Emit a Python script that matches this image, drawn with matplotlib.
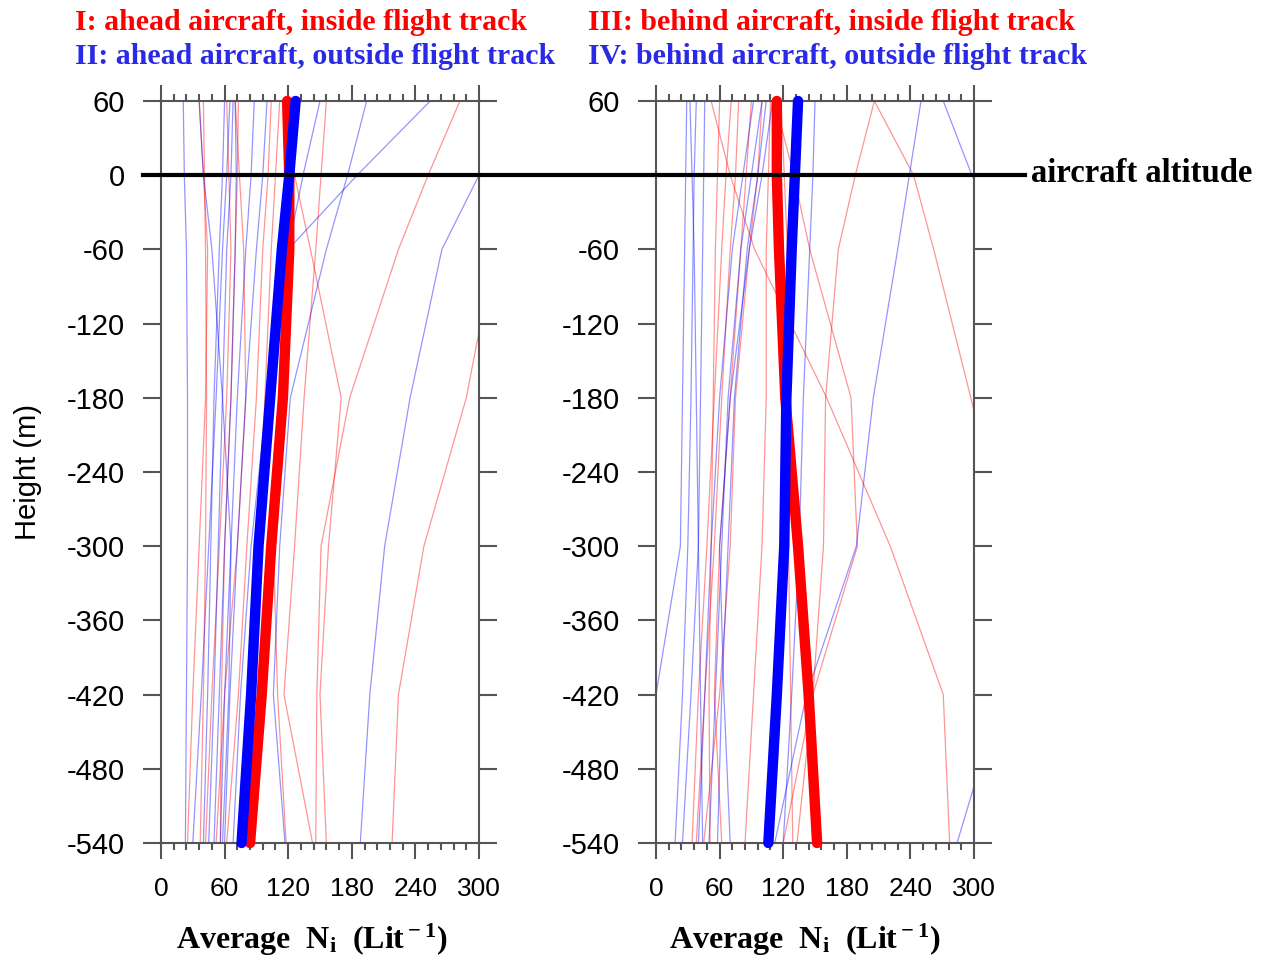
import matplotlib
matplotlib.use("Agg")
import matplotlib.pyplot as plt
from matplotlib.ticker import MultipleLocator
from matplotlib.lines import Line2D

plt.rcParams['font.family'] = ['Liberation Sans', 'DejaVu Sans']
plt.rcParams['axes.unicode_minus'] = False
plt.rcParams['mathtext.fontset'] = 'custom'
plt.rcParams['mathtext.rm'] = 'Liberation Serif:bold'
plt.rcParams['mathtext.bf'] = 'Liberation Serif:bold'
plt.rcParams['mathtext.it'] = 'Liberation Serif:bold'

# ---------------- data ----------------
heights = [60, 0, -60, -180, -300, -420, -540]

# Panel 1, case I (ahead aircraft, inside flight track) - individual profiles
case1_lines = [
    [282, 252, 224, 178, 151, 147, 146],
    [380, 345, 315, 288, 248, 224, 218],
    [156, 151, 146, 135, 126, 116, 143],
    [118, 126, 141, 170, 158, 150, 156],
    [40, 41, 42, 43, 42, 40, 37],
    [73, 72, 70, 66, 60, 57, 56],
    [104, 101, 96, 90, 81, 73, 62],
    [36, 40, 44, 42, 36, 30, 25],
    [62, 64, 66, 62, 55, 48, 42],
    [112, 108, 104, 98, 92, 88, 86],
    [70, 74, 78, 80, 72, 60, 52],
    [125, 122, 118, 112, 106, 110, 118],
]
# Panel 1, case II (ahead aircraft, outside flight track)
case2_lines = [
    [21, 22, 24, 25, 25, 24, 23],
    [254, 185, 120, 100, 85, 75, 68],
    [194, 176, 156, 122, 112, 106, 117],
    [330, 300, 265, 235, 211, 197, 188],
    [150, 134, 120, 102, 92, 85, 80],
    [36, 40, 48, 58, 66, 64, 58],
    [65, 62, 58, 52, 45, 38, 30],
    [70, 71, 70, 66, 60, 55, 50],
    [88, 85, 80, 72, 66, 60, 56],
    [60, 58, 55, 50, 47, 44, 40],
    [100, 96, 90, 80, 72, 65, 60],
    [68, 66, 62, 58, 54, 50, 45],
]
# Panel 2, case III (behind aircraft, inside flight track)
case3_lines = [
    [52, 70, 93, 161, 221, 271, 277],
    [206, 243, 262, 297, 330, 360, 380],
    [206, 188, 172, 160, 158, 148, 133],
    [112, 130, 145, 184, 190, 148, 120],
    [71, 66, 62, 55, 48, 40, 34],
    [78, 75, 70, 62, 55, 46, 38],
    [108, 106, 104, 104, 100, 92, 84],
    [118, 121, 124, 126, 125, 127, 129],
    [60, 58, 56, 54, 52, 50, 51],
    [90, 85, 80, 70, 60, 55, 62],
    [100, 96, 88, 75, 70, 60, 45],
]
# Panel 2, case IV (behind aircraft, outside flight track)
case4_lines = [
    [250, 239, 228, 205, 189, 142, 112],
    [271, 298, 330, 360, 350, 326, 284],
    [150, 148, 145, 139, 135, 128, 120],
    [29, 28, 27, 25, 23, 0, 0],
    [38, 36, 35, 33, 30, 25, 18],
    [46, 45, 44, 42, 40, 33, 25],
    [92, 82, 72, 60, 52, 46, 40],
    [100, 90, 80, 68, 62, 56, 50],
    [104, 96, 86, 74, 68, 62, 58],
    [32, 34, 36, 38, 40, 42, 44],
    [110, 100, 88, 70, 60, 64, 70],
]
# Averages (thick lines)
mean_I = [119, 121, 121, 115, 104, 95, 84]
mean_II = [127, 121, 114, 103, 92, 85, 76]
mean_III = [114, 114, 116, 122, 134, 144, 152]
mean_IV = [134, 131, 128, 123, 121, 114, 106]

xticks = [0, 60, 120, 180, 240, 300]
yticks = [60, 0, -60, -120, -180, -240, -300, -360, -420, -480, -540]

legend_left = ["I: ahead aircraft, inside flight track",
               "II: ahead aircraft, outside flight track"]
legend_right = ["III: behind aircraft, inside flight track",
                "IV: behind aircraft, outside flight track"]

# ---------------- figure ----------------
W, H = 1270, 964
fig = plt.figure(figsize=(W / 100, H / 100), dpi=100)

def fx(px):
    return px / W

def fy(py):
    return 1 - py / H

ax_w = 318 / W
ax_h = 742 / H
ax1 = fig.add_axes([fx(161), fy(843), ax_w, ax_h])
ax2 = fig.add_axes([fx(656), fy(843), ax_w, ax_h])

frame_col = '#555555'
thin_red = (1.0, 0.0, 0.0, 0.42)
thin_blue = (0.0, 0.0, 1.0, 0.42)

def style(ax, hide_zero=False):
    ax.set_xlim(0, 300)
    ax.set_ylim(-540, 60)
    ax.set_xticks(xticks)
    ax.xaxis.set_minor_locator(MultipleLocator(12))
    ax.set_yticks(yticks)
    if hide_zero:
        ax.set_yticklabels(['' if t == 0 else str(t) for t in yticks])
    ax.tick_params(axis='x', which='both', direction='out', top=True, bottom=True,
                   labeltop=False, labelbottom=True, color=frame_col, width=1.5,
                   labelsize=19, pad=13)
    ax.tick_params(axis='x', which='major', length=11.5)
    ax.tick_params(axis='x', which='minor', length=5)
    ax.tick_params(axis='y', which='major', direction='out', left=True, right=True,
                   labelleft=True, labelright=False, length=13, width=1.5,
                   color=frame_col, labelsize=21, pad=13)
    for s in ax.spines.values():
        s.set_color(frame_col)
        s.set_linewidth(1.5)

for ax, reds, blues, mr, mb, hz in [(ax1, case1_lines, case2_lines, mean_I, mean_II, False),
                                    (ax2, case3_lines, case4_lines, mean_III, mean_IV, True)]:
    style(ax, hz)
    for ln in reds:
        ax.plot(ln, heights, color=thin_red, lw=0.9)
    for ln in blues:
        ax.plot(ln, heights, color=thin_blue, lw=0.9)
    ax.plot(mr, heights, color='red', lw=7.5, solid_capstyle='round', clip_on=False, zorder=5)
    ax.plot(mb, heights, color='blue', lw=7.5, solid_capstyle='round', clip_on=False, zorder=6)

# aircraft altitude line across both panels (figure-level, on top of axes)
y0 = ax1.transData.transform((0, 0))[1] / (H)
fig.add_artist(Line2D([fx(143), fx(1025)], [y0, y0], color='black', lw=3,
                      transform=fig.transFigure, zorder=10))
fig.text(fx(1031), fy(173), "aircraft altitude", family='Liberation Serif',
         weight='bold', fontsize=23.5, va='center', ha='left')

# legends / titles
serif = dict(family='Liberation Serif', weight='bold', fontsize=21.5, va='center', ha='left')
fig.text(fx(75), fy(22), legend_left[0], color='red', **serif)
fig.text(fx(75), fy(57), legend_left[1], color='#2a2ae6', **serif)
fig.text(fx(588), fy(22), legend_right[0], color='red', **serif)
fig.text(fx(588), fy(57), legend_right[1], color='#2a2ae6', **serif)

# axis labels
fig.text(fx(28), fy(472), "Height (m)", rotation=90, fontsize=21, va='center', ha='center')
xl = r"Average  N$_{\rm i}$  (Lit$^{\rm -1}$)"
fig.text(fx(312), fy(940), xl, family='Liberation Serif', weight='bold', fontsize=23,
         va='center', ha='center')
fig.text(fx(805), fy(940), xl, family='Liberation Serif', weight='bold', fontsize=23,
         va='center', ha='center')

fig.savefig("out.png", dpi=100)
